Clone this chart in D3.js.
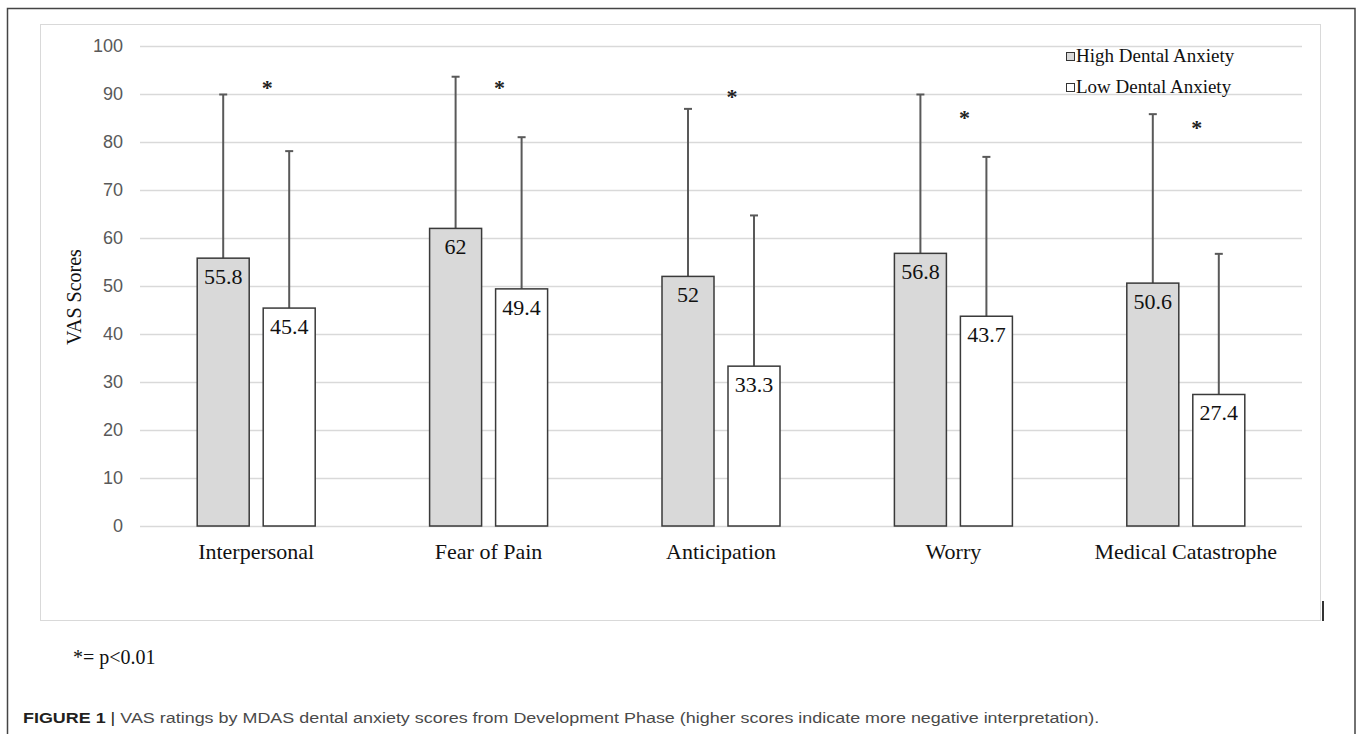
<!DOCTYPE html>
<html>
<head>
<meta charset="utf-8">
<script src="https://cdn.jsdelivr.net/npm/d3@7"></script>
<style>
  html, body { margin: 0; padding: 0; background: #fff; }
  svg { display: block; }
</style>
</head>
<body>
<div id="chart"></div>
<script>
// categories and series
const categories = ["Interpersonal", "Fear of Pain", "Anticipation", "Worry", "Medical Catastrophe"];
const series = ["High Dental Anxiety", "Low Dental Anxiety"];
const highValues = [55.8, 62, 52, 56.8, 50.6];
const lowValues = [45.4, 49.4, 33.3, 43.7, 27.4];
// top of the (upward only) error bars
const highErrTop = [89.9, 93.6, 86.9, 89.9, 85.8];
const lowErrTop = [78.1, 81.0, 64.7, 76.9, 56.7];
// significance stars, height on the value axis
const starValues = [92.0, 92.0, 90.3, 85.8, 83.7];
const yTicks = [0, 10, 20, 30, 40, 50, 60, 70, 80, 90, 100];

const width = 1360;
const height = 734;
const plotLeft = 140;
const plotRight = 1302;
const plotTop = 46;
const plotBottom = 526;

const svg = d3.select("#chart")
  .append("svg")
  .attr("width", width)
  .attr("height", height);

// outer frame (open at the bottom)
svg.append("path")
  .attr("d", `M7.5,${height + 5} V8.5 H1355 V${height + 5}`)
  .attr("fill", "none")
  .attr("stroke", "#444")
  .attr("stroke-width", 1.5);

// chart area border
svg.append("rect")
  .attr("x", 40.5).attr("y", 24.5)
  .attr("width", 1280).attr("height", 596)
  .attr("fill", "none")
  .attr("stroke", "#d9d9d9");

// small stray mark at the lower right of the chart area
svg.append("line")
  .attr("x1", 1323).attr("x2", 1323)
  .attr("y1", 601).attr("y2", 621)
  .attr("stroke", "#333")
  .attr("stroke-width", 2);

const y = d3.scaleLinear().domain([0, 100]).range([plotBottom, plotTop]);

const x0 = d3.scaleBand().domain(categories).range([plotLeft, plotRight]);
const groupWidth = 118;
const x1 = d3.scaleBand().domain(series).range([0, groupWidth]).paddingInner(2 - groupWidth / 66);
const groupOffset = (x0.bandwidth() - groupWidth) / 2;

// gridlines + y labels
const yAxis = svg.append("g")
  .attr("transform", `translate(${plotLeft},0)`)
  .call(d3.axisLeft(y).tickValues(yTicks).tickSize(-(plotRight - plotLeft)).tickPadding(17));
yAxis.select(".domain").remove();
yAxis.selectAll(".tick line").attr("stroke", "#d9d9d9").attr("stroke-width", 1.5);
yAxis.selectAll(".tick text")
  .attr("fill", "#595959")
  .style("font-family", "'Liberation Sans', Arial, sans-serif")
  .style("font-size", "18px");

// y title
svg.append("text")
  .attr("transform", "translate(81,297) rotate(-90)")
  .attr("text-anchor", "middle")
  .style("font-family", "'Liberation Serif', 'Times New Roman', serif")
  .style("font-size", "20px")
  .attr("fill", "#111")
  .text("VAS Scores");

const rows = categories.map((c, i) => ({
  cat: c,
  bars: [
    { s: series[0], v: highValues[i], top: highErrTop[i], fill: "#d9d9d9" },
    { s: series[1], v: lowValues[i], top: lowErrTop[i], fill: "#ffffff" }
  ],
  star: starValues[i]
}));

const groups = svg.selectAll(".grp")
  .data(rows)
  .enter()
  .append("g")
  .attr("class", "grp")
  .attr("transform", (d) => `translate(${x0(d.cat) + groupOffset},0)`);

const bars = groups.selectAll(".bar")
  .data((d) => d.bars)
  .enter();

// error bars first so the bar covers the lower half
bars.append("line")
  .attr("x1", (d) => x1(d.s) + x1.bandwidth() / 2)
  .attr("x2", (d) => x1(d.s) + x1.bandwidth() / 2)
  .attr("y1", (d) => y(d.v))
  .attr("y2", (d) => y(d.top))
  .attr("stroke", "#595959")
  .attr("stroke-width", 2);
bars.append("line")
  .attr("x1", (d) => x1(d.s) + x1.bandwidth() / 2 - 4)
  .attr("x2", (d) => x1(d.s) + x1.bandwidth() / 2 + 4)
  .attr("y1", (d) => y(d.top))
  .attr("y2", (d) => y(d.top))
  .attr("stroke", "#595959")
  .attr("stroke-width", 2);

bars.append("rect")
  .attr("class", "bar")
  .attr("x", (d) => x1(d.s))
  .attr("y", (d) => y(d.v))
  .attr("width", x1.bandwidth())
  .attr("height", (d) => y(0) - y(d.v))
  .attr("fill", (d) => d.fill)
  .attr("stroke", "#3a3a3a")
  .attr("stroke-width", 1.5);

bars.append("text")
  .attr("x", (d) => x1(d.s) + x1.bandwidth() / 2)
  .attr("y", (d) => y(d.v) + 26)
  .attr("text-anchor", "middle")
  .style("font-family", "'Liberation Serif', 'Times New Roman', serif")
  .style("font-size", "22px")
  .attr("fill", "#111")
  .text((d) => d.v);

// stars
groups.append("text")
  .attr("x", x1(series[1]) + 4)
  .attr("y", (d) => y(d.star) + 11)
  .attr("text-anchor", "middle")
  .style("font-family", "'Liberation Serif', 'Times New Roman', serif")
  .style("font-size", "22px")
  .style("font-weight", "bold")
  .attr("fill", "#222")
  .text("*");

// category labels
svg.append("g")
  .attr("transform", `translate(0,${plotBottom})`)
  .call(d3.axisBottom(x0).tickSize(0).tickPadding(0))
  .call((g) => g.select(".domain").remove())
  .selectAll("text")
  .attr("dy", null)
  .attr("y", 33)
  .attr("fill", "#111")
  .style("font-family", "'Liberation Serif', 'Times New Roman', serif")
  .style("font-size", "22px");

// legend
const legend = svg.append("g").attr("transform", "translate(1066,0)");
series.forEach((s, i) => {
  const ly = 62 + i * 31;
  legend.append("rect")
    .attr("x", 0.5).attr("y", ly - 9.5)
    .attr("width", 8).attr("height", 8)
    .attr("fill", i === 0 ? "#d9d9d9" : "#fff")
    .attr("stroke", "#333");
  legend.append("text")
    .attr("x", 10).attr("y", ly)
    .style("font-family", "'Liberation Serif', 'Times New Roman', serif")
    .style("font-size", "19px")
    .attr("fill", "#111")
    .text(s);
});

// footnote
svg.append("text")
  .attr("x", 73).attr("y", 664)
  .style("font-family", "'Liberation Serif', 'Times New Roman', serif")
  .style("font-size", "20px")
  .attr("fill", "#111")
  .text("*= p<0.01");

// figure caption
const cap = svg.append("text")
  .attr("x", 23).attr("y", 723)
  .style("font-family", "'Liberation Sans', Arial, sans-serif")
  .style("font-size", "15.5px");
cap.append("tspan").attr("fill", "#231f20").style("font-weight", "bold").text("FIGURE 1");
cap.append("tspan").attr("fill", "#231f20").text(" | ");
cap.append("tspan").attr("fill", "#4a4a4a")
  .text("VAS ratings by MDAS dental anxiety scores from Development Phase (higher scores indicate more negative interpretation).");
const capLen = cap.node().getComputedTextLength();
const capScale = 1077 / capLen;
cap.attr("transform", `translate(23,0) scale(${capScale},1) translate(-23,0)`);
</script>
</body>
</html>
